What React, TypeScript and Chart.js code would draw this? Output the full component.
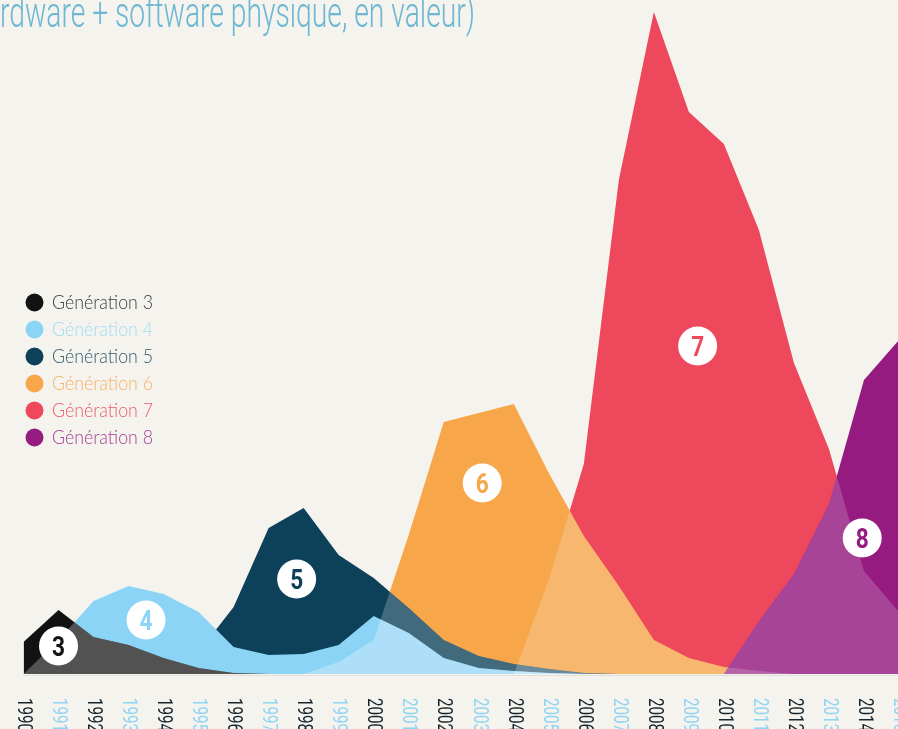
import React, { useEffect, useRef } from 'react';
import { Chart, registerables } from 'chart.js';

Chart.register(...registerables);

// ---------- DATA ----------
const years = [1990, 1991, 1992, 1993, 1994, 1995, 1996, 1997, 1998, 1999, 2000, 2001, 2002, 2003, 2004, 2005, 2006, 2007, 2008, 2009, 2010, 2011, 2012, 2013, 2014, 2015];
const yearLabels = years.map(String);

const seriesNames = ['Génération 3', 'Génération 4', 'Génération 5', 'Génération 6', 'Génération 7', 'Génération 8'];

const gen3 = [3.2, 6.4, 3.7, 2.9, 1.6, 0.6, 0.1, 0, null, null, null, null, null, null, null, null, null, null, null, null, null, null, null, null, null, null];
const gen4 = [0, 3.4, 7.3, 8.8, 8.0, 6.2, 2.7, 1.9, 2.0, 2.9, 5.8, 4.1, 1.6, 0.6, 0.3, 0.1, 0, null, null, null, null, null, null, null, null, null];
const gen5 = [null, null, null, null, 0, 2.2, 6.7, 14.6, 16.6, 11.9, 9.6, 6.6, 3.4, 1.8, 1.0, 0.5, 0.1, 0, null, null, null, null, null, null, null, null];
const gen6 = [null, null, null, null, null, null, null, null, 0, 1.2, 3.4, 13.9, 25.2, 26.1, 27.0, 20.1, 13.8, 8.8, 3.4, 1.6, 0.7, 0.3, 0, null, null, null];
const gen7 = [null, null, null, null, null, null, null, null, null, null, null, null, null, null, 0, 9.4, 21.0, 49.4, 66.2, 56.2, 53.0, 44.4, 31.1, 22.5, 10.3, 6.2];
const gen8 = [null, null, null, null, null, null, null, null, null, null, null, null, null, null, null, null, null, null, null, null, 0, 5.3, 10.0, 17.0, 29.4, 33.4];

const badgeTexts = ['3', '4', '5', '6', '7', '8'];
const badgeYears = [1991, 1993.5, 1997.8, 2003.1, 2009.25, 2013.95];
const badgeValues = [2.8, 5.4, 9.5, 19.1, 32.8, 13.6];

const titleText = '(hardware + software physique, en valeur)';
const titleVisiblePart = 'rdware + software physique, en valeur)';

// ---------- STYLE ----------
const BG = '#f4f3ee';
const COLORS = ['#121212', '#8cd4f5', '#0d4159', '#f7a64a', '#ee485c', '#951b80'];
const TEXT_COLORS = ['#3a3a3a', '#a3dbf5', '#34596b', '#f8b066', '#ef5a6c', '#a33d90'];
const DRAW_ORDER = [0, 1, 2, 4, 5, 3]; // lower = on top
// which lower series lighten each series where they overlap
const LIGHTEN_WITH: number[][] = [[1], [3, 4], [3, 4], [4], [], [4, 3]];
const LIGHTEN_ALPHA = [0.27, 0.29, 0.22, 0.2, 0, 0.18];
const LABEL_DARK = '#15242c';
const LABEL_LIGHT = '#8fd4f3';
const TITLE_COLOR = '#6cb7d4';

const allSeries = [gen3, gen4, gen5, gen6, gen7, gen8];

function tracePath(chart: any, idx: number) {
  const ctx = chart.ctx as CanvasRenderingContext2D;
  const meta = chart.getDatasetMeta(idx);
  const base = chart.scales.y.getPixelForValue(0);
  const pts = meta.data.filter((p: any) => !p.skip);
  if (!pts.length) return;
  ctx.moveTo(pts[0].x, base);
  pts.forEach((p: any) => ctx.lineTo(p.x, p.y));
  ctx.lineTo(pts[pts.length - 1].x, base);
  ctx.closePath();
}

const overlapPlugin = {
  id: 'overlapLighten',
  afterDatasetDraw(chart: any, args: any) {
    const idx = args.index;
    const list = LIGHTEN_WITH[idx];
    if (!list || !list.length) return;
    const ctx = chart.ctx as CanvasRenderingContext2D;
    const a = chart.chartArea;
    ctx.save();
    ctx.beginPath();
    ctx.rect(a.left, a.top, a.right - a.left, a.bottom - a.top);
    ctx.clip();
    ctx.beginPath();
    tracePath(chart, idx);
    ctx.clip();
    ctx.fillStyle = `rgba(255,255,255,${LIGHTEN_ALPHA[idx]})`;
    list.forEach((u) => {
      ctx.beginPath();
      tracePath(chart, u);
      ctx.fill();
    });
    ctx.restore();
  },
};

const decorPlugin = {
  id: 'decor',
  afterDraw(chart: any) {
    const ctx = chart.ctx as CanvasRenderingContext2D;
    const xs = chart.scales.x;
    const ys = chart.scales.y;
    const area = chart.chartArea;
    const base = ys.getPixelForValue(0);

    // baseline
    ctx.save();
    ctx.strokeStyle = '#e0dfd8';
    ctx.lineWidth = 1;
    ctx.beginPath();
    ctx.moveTo(area.left, base + 1.5);
    ctx.lineTo(area.right, base + 1.5);
    ctx.stroke();
    ctx.restore();

    // badges
    badgeTexts.forEach((t, i) => {
      const cx = xs.getPixelForValue(badgeYears[i]);
      const cy = ys.getPixelForValue(badgeValues[i]);
      ctx.save();
      ctx.fillStyle = '#ffffff';
      ctx.beginPath();
      ctx.arc(cx, cy, 19.5, 0, Math.PI * 2);
      ctx.fill();
      ctx.fillStyle = COLORS[i];
      ctx.font = 'bold 28px Roboto, "DejaVu Sans", sans-serif';
      ctx.textAlign = 'center';
      ctx.textBaseline = 'alphabetic';
      ctx.fillText(t, cx, cy + 10, 13);
      ctx.restore();
    });

    // legend
    seriesNames.forEach((name, i) => {
      const cy = 302.5 + i * 27;
      ctx.save();
      ctx.fillStyle = COLORS[i];
      ctx.beginPath();
      ctx.arc(34.5, cy, 9, 0, Math.PI * 2);
      ctx.fill();
      ctx.fillStyle = TEXT_COLORS[i];
      ctx.font = '300 19px Lato, "Open Sans", sans-serif';
      ctx.textAlign = 'left';
      ctx.textBaseline = 'middle';
      ctx.fillText(name, 52, cy, 101);
      ctx.restore();
    });

    // x labels (vertical, reading downward)
    yearLabels.forEach((lab, i) => {
      const x = xs.getPixelForValue(years[i]);
      ctx.save();
      ctx.translate(x, 698);
      ctx.rotate(Math.PI / 2);
      ctx.fillStyle = i % 2 === 0 ? LABEL_DARK : LABEL_LIGHT;
      ctx.font = '21px Roboto, "DejaVu Sans", sans-serif';
      ctx.textAlign = 'left';
      ctx.textBaseline = 'middle';
      ctx.fillText(lab, 0, 0, 34);
      ctx.restore();
    });

    // title (cropped at left)
    ctx.save();
    ctx.font = '300 42px Roboto, "DejaVu Sans", sans-serif';
    const w = ctx.measureText(titleVisiblePart).width;
    const s = 475 / w;
    ctx.translate(475, 27);
    ctx.scale(s, 1);
    ctx.fillStyle = TITLE_COLOR;
    ctx.textAlign = 'right';
    ctx.textBaseline = 'alphabetic';
    ctx.fillText(titleText, 0, 0);
    ctx.restore();
  },
};

export default function App() {
  const ref = useRef<HTMLCanvasElement>(null);
  useEffect(() => {
    if (!ref.current) return;
    const datasets = allSeries.map((vals, i) => ({
      label: seriesNames[i],
      data: years.map((yr, k) => ({ x: yr, y: vals[k] })),
      backgroundColor: COLORS[i],
      borderColor: 'rgba(0,0,0,0)',
      borderWidth: 0,
      pointRadius: 0,
      pointHoverRadius: 0,
      tension: 0,
      fill: 'origin',
      order: DRAW_ORDER[i],
      spanGaps: false,
    }));
    const chart = new Chart(ref.current, {
      type: 'line',
      data: { datasets: datasets as any },
      options: {
        animation: false,
        responsive: false,
        devicePixelRatio: 1,
        layout: { padding: { left: 23.5, right: 0, top: 0, bottom: 55 } },
        scales: {
          x: { type: 'linear', min: 1990, max: 2015, display: false },
          y: { min: 0, max: 67.4, display: false },
        },
        plugins: {
          legend: { display: false },
          tooltip: { enabled: false },
        },
        events: [],
      },
      plugins: [overlapPlugin, decorPlugin],
    } as any);
    return () => chart.destroy();
  }, []);
  return (
    <div style={{ position: 'fixed', left: 0, top: 0, width: 898, height: 729, overflow: 'hidden', background: BG }}>
      <canvas ref={ref} width={899} height={729} style={{ display: 'block', width: 899, height: 729 }} />
    </div>
  );
}
